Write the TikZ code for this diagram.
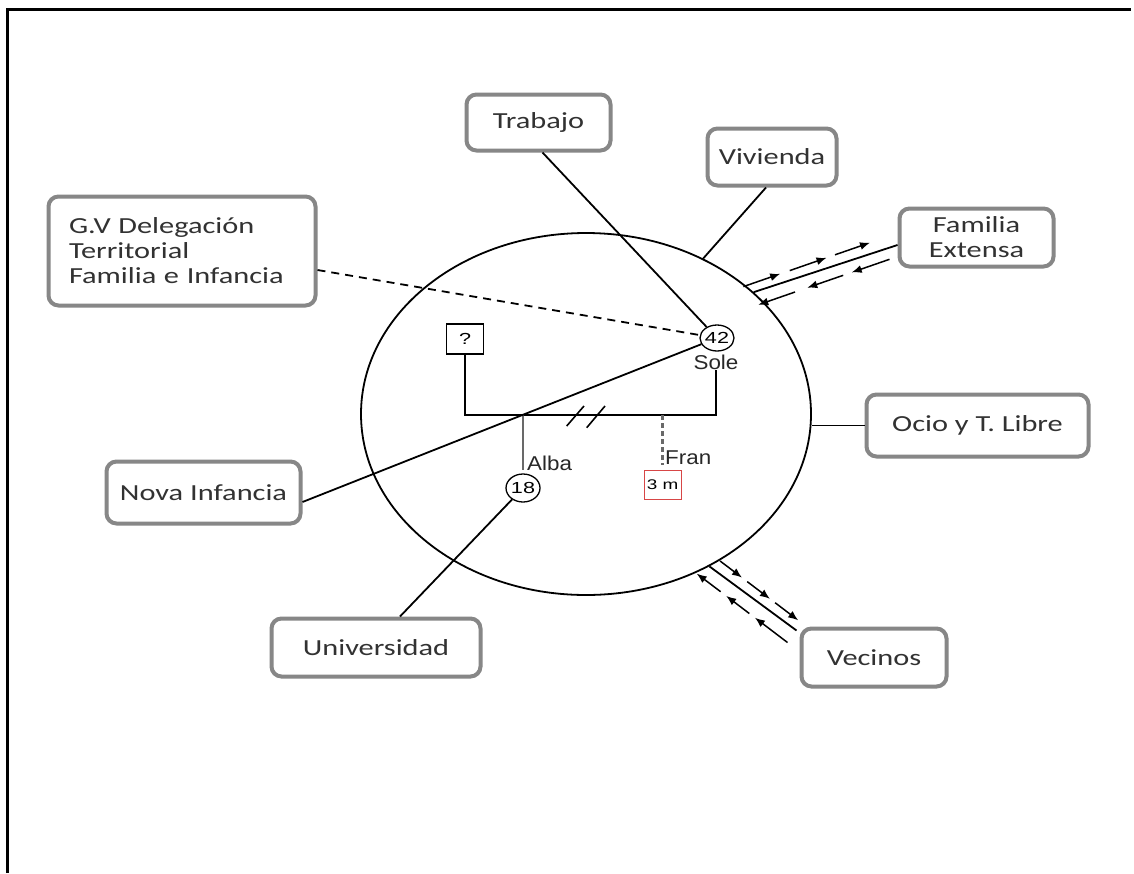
\documentclass[tikz,border=0pt]{standalone}
\usepackage{fontspec}
\setmainfont{Carlito}
\newfontfamily\boxfont[FakeStretch=1.32]{Carlito}
\newfontfamily\labfont[FakeStretch=1.12]{Liberation Sans}
\newfontfamily\numfont[FakeStretch=1.35]{Liberation Sans}
\usetikzlibrary{shapes.geometric,arrows.meta,calc}
\definecolor{boxgray}{RGB}{135,135,135}
\definecolor{textgray}{RGB}{50,50,50}
\definecolor{labgray}{RGB}{40,40,40}
\definecolor{linegray}{RGB}{105,105,105}
\definecolor{agered}{RGB}{215,70,70}

\begin{document}
\begin{tikzpicture}[x=1pt,y=-1pt,
  ctxbox/.style={draw=boxgray, line width=4pt, rounded corners=10pt, fill=white,
    inner sep=0pt, font=\boxfont\fontsize{23}{25}\selectfont, text=textgray, align=center},
  link/.style={line width=1.8pt},
  flow/.style={line width=1.5pt, -{Latex[length=10pt,width=8pt]}},
  person/.style={draw, ellipse, line width=1.3pt, inner sep=0pt, font=\numfont\fontsize{16}{16}\selectfont},
  plabel/.style={font=\labfont\fontsize{20}{20}\selectfont, text=labgray, inner sep=0pt}]

\useasboundingbox (0,0) rectangle (1134,873);
\fill[white] (0,0) rectangle (1134,873);

% frame
\draw[line width=3pt] (7,873) -- (7,9) -- (1131,9);

% household
\node[draw, ellipse, line width=1.8pt, minimum width=450, minimum height=362, inner sep=0pt] (home) at (586,414) {};

% context boxes
\node[ctxbox, minimum width=144, minimum height=56] (trab) at (538.5,122.5) {Trabajo};
\node[ctxbox, minimum width=129, minimum height=57] (viv) at (772,157) {Vivienda};
\node[ctxbox, minimum width=267, minimum height=109, text width=226, align=left] (gv) at (182,251)
  {G.V Delegación\\Territorial\\Familia e Infancia};
\node[ctxbox, minimum width=154, minimum height=58] (fam) at (976.5,237.5) {Familia\\Extensa};
\node[ctxbox, minimum width=222, minimum height=62] (ocio) at (977.5,425.5) {Ocio y T. Libre};
\node[ctxbox, minimum width=194, minimum height=62] (nova) at (203.5,492.5) {Nova Infancia};
\node[ctxbox, minimum width=209, minimum height=58] (univ) at (376,647.5) {Universidad};
\node[ctxbox, minimum width=145, minimum height=58] (vec) at (874,657.5) {Vecinos};

% genogram
\node[draw, line width=1.4pt, minimum width=37, minimum height=30, inner sep=0pt,
  font=\numfont\fontsize{16}{16}\selectfont] (father) at (465,339) {?};
\node[person, minimum width=34, minimum height=26] (sole42) at (717,338) {42};
\node[plabel] (sole) at (716,362) {Sole};
\node[person, minimum width=34, minimum height=28] (alba18) at (523,488) {18};
\node[plabel, anchor=west] (alba) at (527,463) {Alba};
\node[plabel, anchor=west] (fran) at (665,458) {Fran};
\node[draw=agered, line width=1pt, minimum width=37, minimum height=29, inner sep=0pt,
  font=\numfont\fontsize{14}{14}\selectfont] (fran3m) at (662.5,484.5) {3 m};

\coordinate (barY) at (0,415);
\draw[line width=1.7pt] (father.south) -- (father.south |- barY) -- (sole.south |- barY) -- (sole.south);
\draw[line width=2.2pt, linegray] (alba18.north |- barY) -- ($(alba18.north)+(0,-3)$);
\draw[line width=2.4pt, linegray, dash pattern=on 5pt off 3pt] (fran3m.north |- barY) -- ($(fran3m.north)+(0,-5)$);
% separation marks
\draw[line width=1.6pt] (566.7,426) -- (584,406);
\draw[line width=1.6pt] (586.7,427.7) -- (605,406);

% relations to the context
\draw[link] ($(trab.south)+(4,0)$) -- (sole42);
\draw[link] (home.53) -- ($(viv.south)+(-6,0)$);
\draw[link, dash pattern=on 8pt off 6pt] ($(gv.east)+(0,19)$) -- (sole42);
\draw[link] ($(nova.east)+(0,9.5)$) -- (sole42);
\draw[link] ($(univ.north)+(24,0)$) -- (alba18);
\draw[link] (ocio.west) -- (ocio.west -| home.east);

% exchange with the extended family
\draw[link] (home.36) -- ($(fam.west)+(0,7.5)$);
\coordinate (fu1) at (743.4,286.6); \coordinate (fu2) at (780.2,273.8);
\coordinate (fu3) at (789.7,270.6); \coordinate (fu4) at (826.5,257.8);
\coordinate (fu5) at (835.0,254.8); \coordinate (fu6) at (870.0,242.7);
\draw[flow] (fu1) -- (fu2);
\draw[flow] (fu3) -- (fu4);
\draw[flow] (fu5) -- (fu6);
\coordinate (fl1) at (758.2,304.8); \coordinate (fl2) at (795.0,292.0);
\coordinate (fl3) at (807.3,287.7); \coordinate (fl4) at (843.2,275.3);
\coordinate (fl5) at (851.7,272.4); \coordinate (fl6) at (889.5,259.3);
\draw[flow] (fl2) -- (fl1);
\draw[flow] (fl4) -- (fl3);
\draw[flow] (fl6) -- (fl5);

% exchange with the neighbours
\draw[link] (home.-51) -- ($(vec.north west)+(-3,4)$);
\coordinate (vu1) at (720.1,561.0); \coordinate (vu2) at (742.0,577.6);
\coordinate (vu3) at (747.2,581.6); \coordinate (vu4) at (769.9,598.8);
\coordinate (vu5) at (775.1,602.7); \coordinate (vu6) at (798.2,620.3);
\draw[flow] (vu1) -- (vu2);
\draw[flow] (vu3) -- (vu4);
\draw[flow] (vu5) -- (vu6);
\coordinate (vl1) at (696.7,573.6); \coordinate (vl2) at (720.6,591.7);
\coordinate (vl3) at (726.2,595.9); \coordinate (vl4) at (749.3,613.5);
\coordinate (vl5) at (754.9,617.7); \coordinate (vl6) at (787.5,642.5);
\draw[flow] (vl2) -- (vl1);
\draw[flow] (vl4) -- (vl3);
\draw[flow] (vl6) -- (vl5);
\end{tikzpicture}
\end{document}
